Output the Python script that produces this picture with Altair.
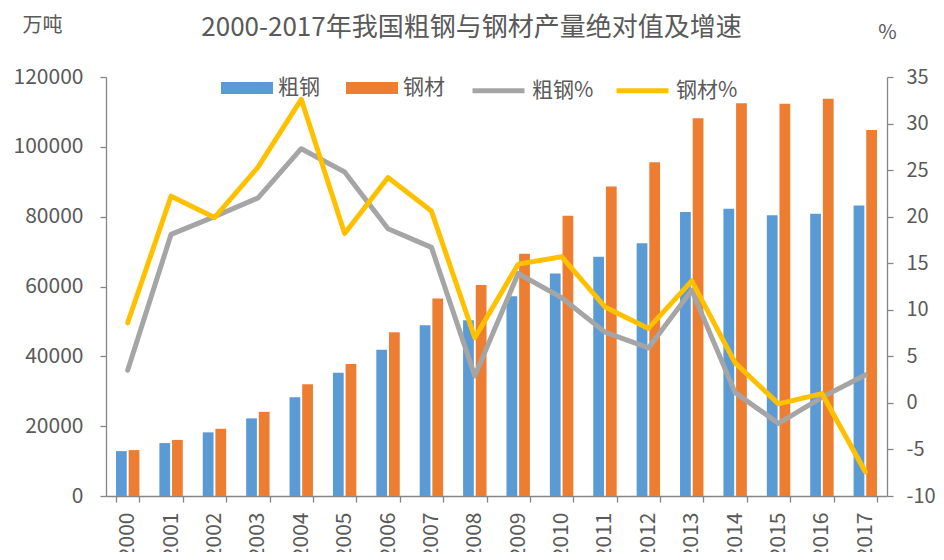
import altair as alt
import pandas as pd

years = [str(y) for y in range(2000, 2018)]
crude = [12850, 15163, 18237, 22234, 28291, 35324, 41915, 48929, 50306,
         57218, 63723, 68528, 72388, 81314, 82270, 80383, 80837, 83173]
steel = [13146, 16068, 19252, 24108, 31976, 37771, 46893, 56561, 60460,
         69405, 80277, 88620, 95578, 108201, 112513, 112350, 113801, 104818]
crude_pct = [3.5, 18.1, 20.0, 22.0, 27.3, 24.8, 18.7, 16.7, 2.9,
             13.9, 11.3, 7.6, 5.9, 12.1, 1.1, -2.2, 0.6, 3.0]
steel_pct = [8.6, 22.2, 19.9, 25.3, 32.6, 18.2, 24.2, 20.6, 7.0,
             14.9, 15.7, 10.3, 8.0, 13.1, 4.3, -0.1, 1.0, -7.4]

bar_series = ["粗钢", "钢材"]
line_series = ["粗钢%", "钢材%"]
bar_colors = ["#5B9BD5", "#ED7D31"]
line_colors = ["#A5A5A5", "#FFC000"]
left_ticks = [0, 20000, 40000, 60000, 80000, 100000, 120000]
right_ticks = [-10, -5, 0, 5, 10, 15, 20, 25, 30, 35]

bar_df = pd.DataFrame({
    "year": years * 2,
    "series": [bar_series[0]] * len(years) + [bar_series[1]] * len(years),
    "value": crude + steel,
})
line_df = pd.DataFrame({
    "year": years * 2,
    "series": [line_series[0]] * len(years) + [line_series[1]] * len(years),
    "pct": crude_pct + steel_pct,
})

FONT = "Noto Sans CJK SC"
TXT = "#595959"
AX = "#868686"

x_enc = alt.X(
    "year:N",
    sort=years,
    scale=alt.Scale(paddingInner=0.46, paddingOuter=0.23),
    axis=alt.Axis(title=None, labelAngle=-90, labelAlign="right",
                  labelBaseline="middle", labelPadding=10, tickBand="extent",
                  tickSize=6),
)

bars = alt.Chart(bar_df).mark_bar().encode(
    x=x_enc,
    xOffset=alt.XOffset("series:N", sort=bar_series,
                        scale=alt.Scale(paddingInner=0.15)),
    y=alt.Y("value:Q",
            scale=alt.Scale(domain=[0, 120000], nice=False),
            axis=alt.Axis(values=left_ticks, format="d", orient="left",
                          tickSize=6, labelPadding=17,
                          title="万吨", titleAngle=0, titleX=-64, titleY=-52,
                          titleAlign="center", titleBaseline="middle")),
    fill=alt.Fill("series:N",
                  scale=alt.Scale(domain=bar_series, range=bar_colors),
                  legend=alt.Legend(orient="none", legendX=115, legendY=-15,
                                    direction="horizontal", title=None,
                                    symbolType="M-1,-0.23H1V0.23H-1Z",
                                    symbolSize=2704, symbolStrokeWidth=0,
                                    labelFontSize=21, labelColor=TXT,
                                    labelFont=FONT, columnPadding=26,
                                    labelOffset=5, padding=0)),
)

lines = alt.Chart(line_df).mark_line(strokeWidth=5, strokeCap="round",
                                     strokeJoin="round").encode(
    x=alt.X("year:N", sort=years),
    y=alt.Y("pct:Q",
            scale=alt.Scale(domain=[-10, 35], nice=False),
            axis=alt.Axis(values=right_ticks, orient="right", tickSize=6,
                          labelPadding=13, labelFontSize=20,
                          labelExpr="'' + datum.value",
                          title="%", titleAngle=0, titleX=0, titleY=-45,
                          titleAlign="center", titleBaseline="middle")),
    stroke=alt.Stroke("series:N",
                      scale=alt.Scale(domain=line_series, range=line_colors),
                      legend=alt.Legend(orient="none", legendX=364, legendY=-15,
                                        direction="horizontal", title=None,
                                        symbolType="stroke", symbolSize=2700,
                                        symbolStrokeWidth=5,
                                        labelFontSize=21, labelColor=TXT,
                                        labelFont=FONT, columnPadding=12,
                                        labelOffset=5, padding=0)),
)

chart = alt.layer(bars, lines).resolve_scale(
    y="independent", fill="independent", stroke="independent"
).properties(
    width=781, height=419,
    autosize=alt.AutoSizeParams(type="none"),
    padding={"left": 98, "top": 69, "right": 49, "bottom": 56},
    title=alt.Title("2000-2017年我国粗钢与钢材产量绝对值及增速",
                    fontSize=26, font=FONT, color=TXT, fontWeight="normal",
                    anchor="middle", frame="group", dx=-25, dy=30),
).configure_view(stroke=None).configure_axis(
    grid=False, domainColor=AX, tickColor=AX, domainWidth=1.3, tickWidth=1.3,
    labelColor=TXT, labelFont=FONT, labelFontSize=21,
    titleColor=TXT, titleFont=FONT, titleFontSize=20, titleFontWeight="normal",
)

chart.save("out.html", embed_options={"renderer": "svg", "actions": False})
